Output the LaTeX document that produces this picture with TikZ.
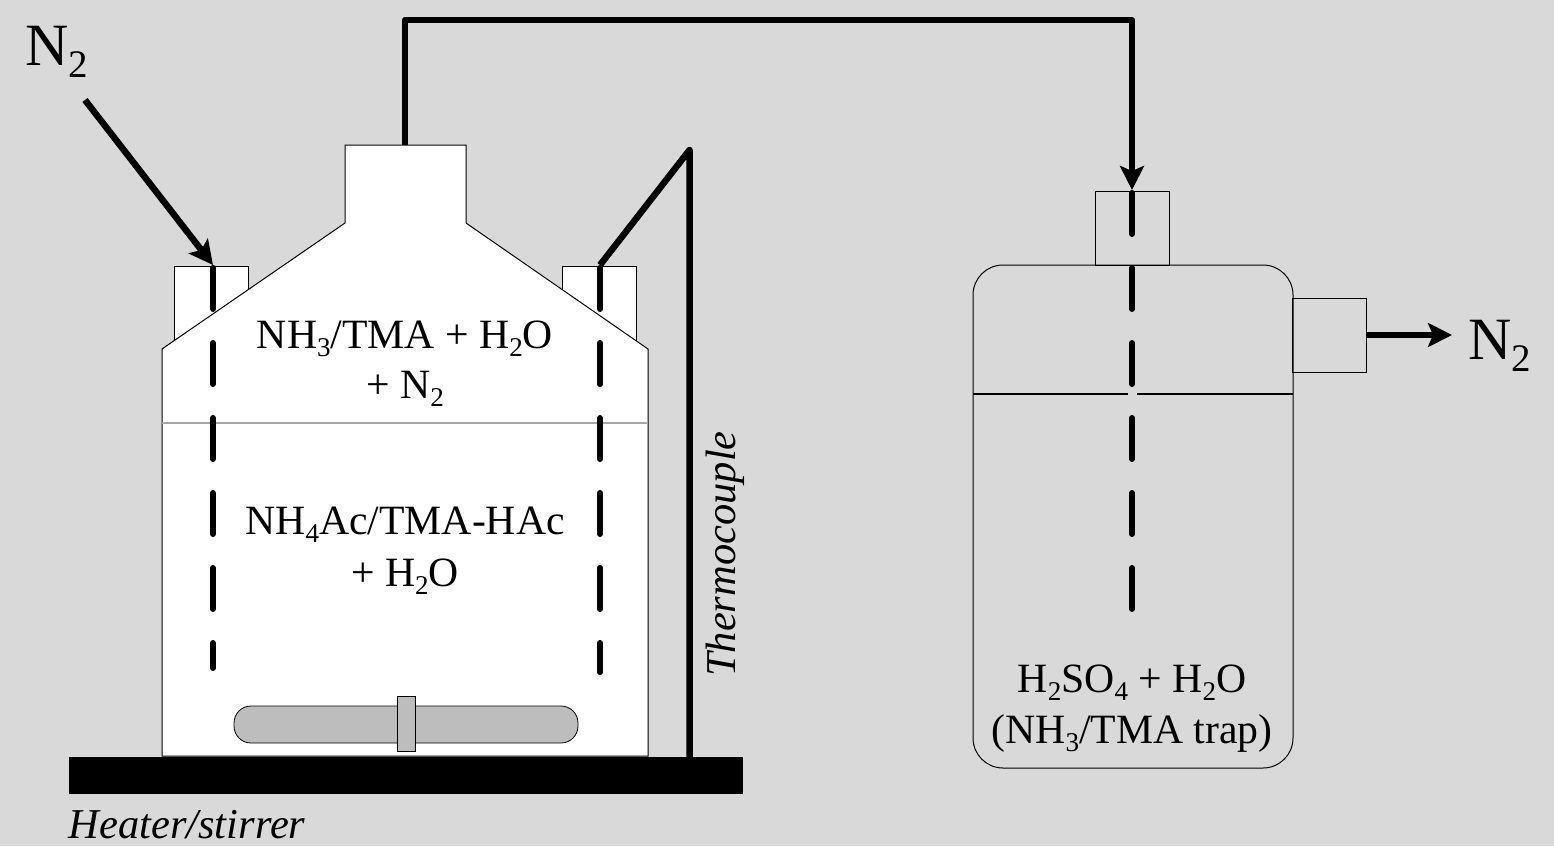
\documentclass[tikz,border=0pt]{standalone}
\usepackage{fontspec}
\setmainfont{Liberation Serif}
\usepackage{xcolor}
\usetikzlibrary{arrows.meta}
\definecolor{bggray}{HTML}{D9D9D9}
\definecolor{bargray}{HTML}{BDBDBD}
\newcommand{\lowidx}[1]{\raisebox{-.2em}{\scalebox{.65}{#1}}}
\tikzset{
	neckbox/.style={rectangle, inner sep=0pt, minimum width=74pt, minimum height=74pt, draw=black, line width=0.9pt},
	tube/.style={line width=6.5pt, line join=round},
	dip/.style={line width=6pt, line cap=round, dash pattern=on 41pt off 34pt},
	label/.style={anchor=base, inner sep=0pt, font=\fontsize{41.7}{41.7}\selectfont},
	biglabel/.style={anchor=base, inner sep=0pt, font=\fontsize{60}{60}\selectfont},
	tag/.style={anchor=base, inner sep=0pt, font=\fontsize{42.5}{42.5}\selectfont\itshape},
}
\begin{document}
\begin{tikzpicture}[x=1pt,y=-1pt,>={Stealth[length=24pt,width=24pt,inset=5pt]}]
	\useasboundingbox (0,0) rectangle (1554,846);
	\fill[bggray] (0,0) rectangle (1554,846);
	% reaction vessel
	\node[neckbox, fill=white] (leftneck) at (211,303) {};
	\node[neckbox, fill=white] (rightneck) at (599,303) {};
	\draw[fill=white, line width=1pt] (162,756) -- (162,349) -- (345,223) -- (345,145) -- (466,145) -- (466,223) -- (648,349) -- (648,756) -- cycle;
	\coordinate (ventop) at (405,145);
	\draw[gray!70, line width=1.5pt] (162,423) -- (648,423);
	% stirrer and heater
	\node[rectangle, rounded corners=17pt, minimum width=344pt, minimum height=37pt, inner sep=0pt, draw=black, fill=bargray, line width=0.8pt] (stirbar) at (406,724.5) {};
	\node[rectangle, minimum width=18pt, minimum height=55pt, inner sep=0pt, draw=black, fill=bargray, line width=0.8pt] (stirpin) at (406,723.5) {};
	\node[rectangle, minimum width=674pt, minimum height=37pt, inner sep=0pt, fill=black] (heater) at (406,775) {};
	% trap
	\node[neckbox] (trapneck) at (1132.5,228) {};
	\node[neckbox] (sideneck) at (1329.5,335) {};
	\node[rectangle, rounded corners=30pt, minimum width=320pt, minimum height=503pt, inner sep=0pt, draw=black, line width=1pt] (trap) at (1133,516.5) {};
	\coordinate (trapL) at (973,394);
	\coordinate (trapR) at (1293,394);
	\coordinate (gapL) at (1128,394);
	\coordinate (gapR) at (1137,394);
	\draw[line width=1.5pt] (trapL) -- (gapL);
	\draw[line width=1.5pt] (gapR) -- (trapR);
	% dip tubes
	\coordinate (leftend) at (213,668);
	\coordinate (rightend) at (600,672);
	\coordinate (trapend) at (1132,609);
	\coordinate (leftin) at (213,268);
	\coordinate (rightin) at (600,268);
	\coordinate (trapin) at (1132,193);
	\coordinate (lefttip) at (213,265);
	\coordinate (righttip) at (600,265);
	\coordinate (traptip) at (1132,190);
	\draw[dip] (leftin) -- (leftend);
	\draw[dip] (rightin) -- (rightend);
	\draw[dip] (trapin) -- (trapend);
	% gas lines
	\coordinate (gasin) at (85,100);
	\coordinate (tubetopL) at (405,20);
	\coordinate (tubetopR) at (1132,20);
	\coordinate (couple) at (689.5,150);
	\coordinate (coupleend) at (689.5,757);
	\coordinate (gasout) at (1452,335);
	\draw[->, tube] (gasin) -- (lefttip);
	\draw[->, tube] (ventop) -- (tubetopL) -- (tubetopR) -- (traptip);
	\draw[tube] (righttip) -- (couple) -- (coupleend);
	\draw[->, tube] (sideneck.east) -- (gasout);
	% labels
	\node[biglabel] (nin) at (57,65) {N\lowidx{2}};
	\node[biglabel] (nout) at (1500,359) {N\lowidx{2}};
	\node[label] (gasa) at (405,348) {NH\lowidx{3}/TMA + H\lowidx{2}O};
	\node[label] (gasb) at (405,398) {+ N\lowidx{2}};
	\node[label] (liqa) at (405,534) {NH\lowidx{4}Ac/TMA-HAc};
	\node[label] (liqb) at (405,586) {+ H\lowidx{2}O};
	\node[label] (trapa) at (1132,692) {H\lowidx{2}SO\lowidx{4} + H\lowidx{2}O};
	\node[label] (trapb) at (1132,743) {(NH\lowidx{3}/TMA trap)};
	\node[tag, rotate=90] (thermo) at (735,554) {Thermocouple};
	\node[tag] (heat) at (187,838) {Heater/stirrer};
\end{tikzpicture}
\end{document}
